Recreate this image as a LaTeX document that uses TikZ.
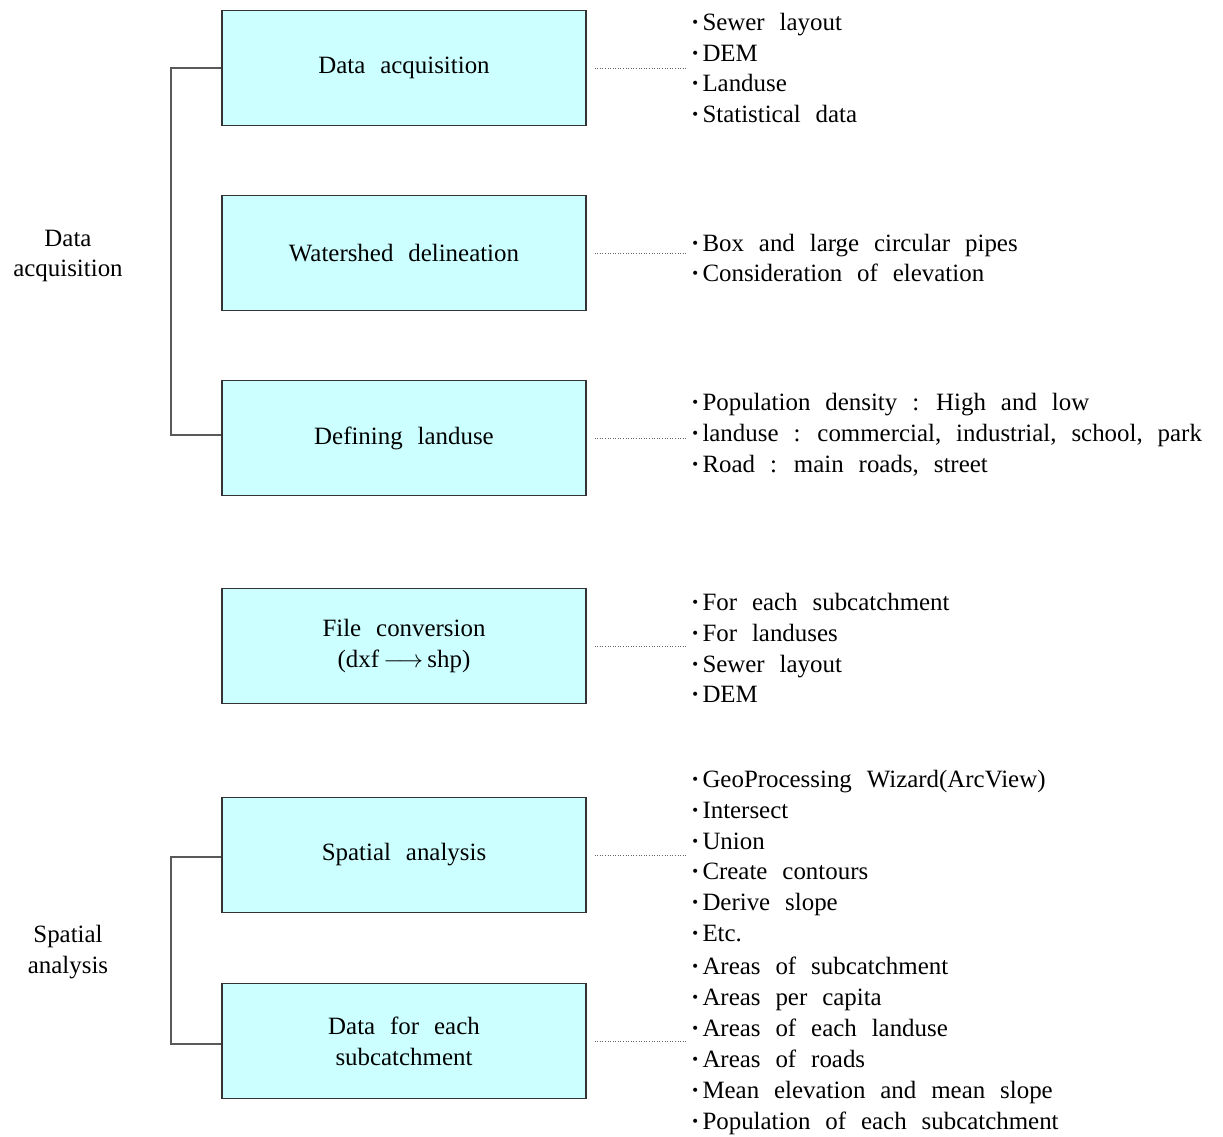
\documentclass[tikz,border=0pt]{standalone}
\usepackage{fontspec}
\setmainfont{Liberation Serif}
\newcommand\diagfont{\fontsize{25}{31}\selectfont}
\newcommand\bl{\textbf{·}\hspace{3bp}}
\begin{document}
\begin{tikzpicture}[x=1bp,y=-1bp,
  every node/.style={font=\diagfont,execute at begin node={\spaceskip=0.6em plus 0.1em\relax}},
  stepbox/.style={draw=black!80,line width=1.1bp,fill=boxcyan,minimum width=364bp,minimum height=115bp,align=center,inner sep=0pt},
  listnode/.style={anchor=west,align=left,inner sep=5bp},
  bracket/.style={draw=black!65,line width=1.4bp},
  dots/.style={draw=black!60,line width=0.6bp,dotted}]
\definecolor{boxcyan}{HTML}{CCFFFF}
\useasboundingbox (0,0) rectangle (1223,1137);
% boxes
\node[stepbox] (b1) at (404,68) {Data acquisition};
\node[stepbox] (b2) at (404,253) {Watershed delineation};
\node[stepbox] (b3) at (404,438) {Defining landuse};
\node[stepbox] (b4) at (404,646) {File conversion\\(dxf\,$\longrightarrow$\,shp)};
\node[stepbox] (b5) at (404,855) {Spatial analysis};
\node[stepbox] (b6) at (404,1041) {Data for each\\subcatchment};
% lists
\node[listnode] (l1) at (686,68) {\bl Sewer layout\\\bl DEM\\\bl Landuse\\\bl Statistical data};
\node[listnode] (l2) at (686,258) {\bl Box and large circular pipes\\\bl Consideration of elevation};
\node[listnode] (l3) at (686,435) {\bl Population density : High and low\\\bl landuse : commercial, industrial, school, park\\\bl Road : main roads, street};
\node[listnode] (l4) at (686,648) {\bl For each subcatchment\\\bl For landuses\\\bl Sewer layout\\\bl DEM};
\node[listnode] (l5) at (686,856) {\bl GeoProcessing Wizard(ArcView)\\\bl Intersect\\\bl Union\\\bl Create contours\\\bl Derive slope\\\bl Etc.};
\node[listnode] (l6) at (686,1046) {\bl Areas of subcatchment\\\bl Areas per capita\\\bl Areas of each landuse\\\bl Areas of roads\\\bl Mean elevation and mean slope\\\bl Population of each subcatchment};
% dotted connectors
\foreach \b/\l in {b1/l1,b2/l2,b3/l3,b4/l4,b5/l5,b6/l6}
  \draw[dots] ([xshift=8bp]\b.east) -- (\b.east -| \l.west);
% left labels
\node[align=center] (g1) at (68,256) {Data\\acquisition};
\node[align=center] (g2) at (68,952) {Spatial\\analysis};
% brackets
\coordinate (k1) at (171,68);
\coordinate (k2) at (171,435);
\coordinate (k3) at (171,857);
\coordinate (k4) at (171,1044);
\draw[bracket] (b1.west |- k1) -- (k1) -- (k2) -- (b3.west |- k2);
\draw[bracket] (b5.west |- k3) -- (k3) -- (k4) -- (b6.west |- k4);
\end{tikzpicture}
\end{document}
